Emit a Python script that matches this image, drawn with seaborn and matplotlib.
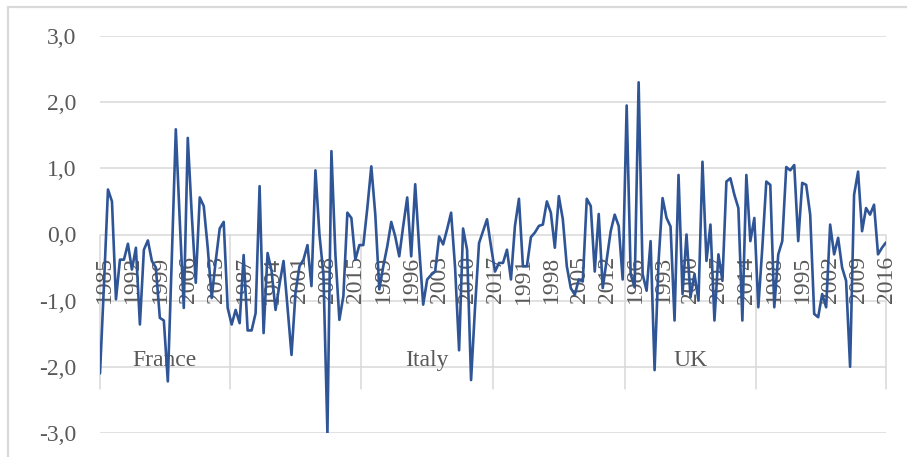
import numpy as np
import pandas as pd
import seaborn as sns
import matplotlib
matplotlib.use("Agg")
import matplotlib.pyplot as plt
from matplotlib.patches import Rectangle

# ---------------- data ----------------
years = list(range(1985, 2018))          # 33 years per group
group_labels = ["France", "", "Italy", "", "UK", ""]   # only these are shown in the chart

g1 = [-2.10, -0.75, 0.68, 0.50, -0.98, -0.38, -0.38, -0.14, -0.53, -0.20, -1.36,
      -0.23, -0.09, -0.40, -0.50, -1.26, -1.30, -2.22, -0.35, 1.59, 0.20, -1.11,
      1.46, 0.30, -0.73, 0.56, 0.43, -0.20, -0.96, -0.40, 0.09, 0.19, -1.11]
g2 = [-1.36, -1.14, -1.34, -0.31, -1.45, -1.45, -1.19, 0.73, -1.49, -0.28, -0.55,
      -1.14, -0.75, -0.40, -1.10, -1.82, -0.88, -0.48, -0.38, -0.16, -0.78, 0.97,
      0.00, -0.60, -3.00, 1.26, -0.30, -1.29, -0.93, 0.33, 0.25, -0.38, -0.16]
g3 = [-0.16, 0.40, 1.03, 0.30, -0.83, -0.48, -0.18, 0.19, -0.03, -0.33, 0.13,
      0.56, -0.33, 0.76, -0.20, -1.06, -0.68, -0.61, -0.56, -0.03, -0.15, 0.08,
      0.33, -0.50, -1.75, 0.09, -0.23, -2.20, -1.10, -0.13, 0.05, 0.23, -0.18]
g4 = [-0.56, -0.43, -0.43, -0.23, -0.68, 0.13, 0.54, -0.48, -0.48, -0.04, 0.03,
      0.13, 0.15, 0.50, 0.33, -0.20, 0.58, 0.23, -0.48, -0.81, -0.91, -0.68,
      -0.71, 0.54, 0.43, -0.56, 0.31, -0.81, -0.38, 0.05, 0.30, 0.13, -0.68]
g5 = [1.95, -0.60, -0.80, 2.30, -0.60, -0.85, -0.10, -2.05, -0.40, 0.55, 0.25,
      0.12, -1.30, 0.90, -0.90, 0.00, -0.95, -0.60, -1.00, 1.10, -0.40, 0.15,
      -1.30, -0.30, -0.70, 0.80, 0.85, 0.60, 0.40, -1.30, 0.90, -0.10, 0.25]
g6 = [-1.10, -0.20, 0.80, 0.75, -1.10, -0.30, -0.10, 1.02, 0.97, 1.05, -0.10,
      0.78, 0.75, 0.30, -1.20, -1.25, -0.90, -1.10, 0.15, -0.30, -0.05, -0.50,
      -0.70, -2.00, 0.60, 0.95, 0.05, 0.40, 0.30, 0.45, -0.30, -0.20, -0.12]

groups = [g1, g2, g3, g4, g5, g6]
ytick_values = [-3, -2, -1, 0, 1, 2, 3]
ytick_labels = ["-3,0", "-2,0", "-1,0", "0,0", "1,0", "2,0", "3,0"]

# ---------------- build table ----------------
rows = []
for gi, g in enumerate(groups):
    for yi, v in enumerate(g):
        rows.append({"group": gi, "year": years[yi], "value": v})
df = pd.DataFrame(rows)
df["idx"] = np.arange(len(df))
n = len(df)
ng = len(years)

# ---------------- figure ----------------
sns.set_style("white")
plt.rcParams["font.family"] = ["Liberation Serif", "DejaVu Serif"]

W, H = 907, 457
fig = plt.figure(figsize=(W / 100, H / 100), dpi=100)
ax = fig.add_axes([100 / W, (H - 433) / H, 786 / W, 397 / H])

text_col = "#595959"
grid_col = "#d9d9d9"

sns.lineplot(data=df, x="idx", y="value", ax=ax, color="#2f5597",
             linewidth=1.9, legend=False, zorder=3)

ax.set_xlim(0, n - 1)
ax.set_ylim(-3, 3)
for s in ax.spines.values():
    s.set_visible(False)

# horizontal gridlines
for v in ytick_values:
    ax.axhline(v, color=grid_col, lw=1.1, zorder=1)

ax.set_yticks(ytick_values)
ax.set_yticklabels(ytick_labels)
ax.tick_params(axis="y", length=0, pad=17, labelsize=17, labelcolor=text_col)
ax.set_xticks([])
ax.set_xlabel("")
ax.set_ylabel("")

# group separators
bounds = [0] + [k * ng - 0.5 for k in range(1, len(groups))] + [n - 1]
for b in bounds:
    ax.plot([b, b], [0, -2.33], color=grid_col, lw=1.1, zorder=1, clip_on=False)

# year labels every 7 categories
for i in range(0, n, 7):
    ax.text(i + 1.1, -0.33, str(df["year"].iloc[i]), rotation=90,
            ha="center", va="top", fontsize=17, color=text_col, zorder=2)

# group labels
for gi, lab in enumerate(group_labels):
    if lab:
        cx = (bounds[gi] + bounds[gi + 1]) / 2
        ax.text(cx, -1.9, lab, ha="center", va="center", fontsize=17,
                color=text_col, zorder=2)

# chart-area border
fig.patches.append(Rectangle((8 / W, -0.1), 2, 1.1 - 7 / H,
                             transform=fig.transFigure, fill=False,
                             edgecolor=grid_col, lw=1.6))

fig.savefig("out.png", dpi=100)
